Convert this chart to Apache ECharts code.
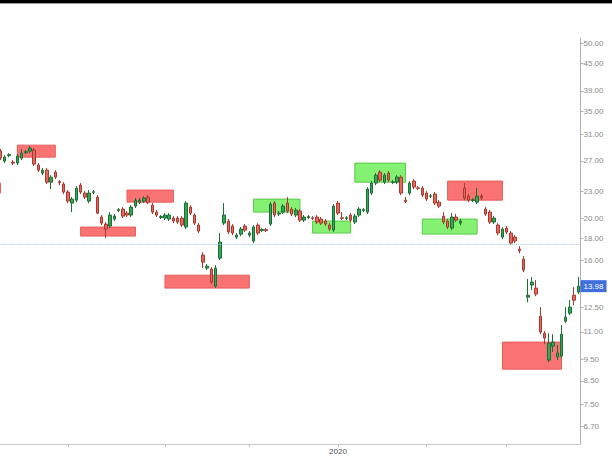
<!DOCTYPE html>
<html><head><meta charset="utf-8">
<script src="https://cdn.jsdelivr.net/npm/echarts@6/dist/echarts.min.js"></script>
<style>html,body{margin:0;padding:0;background:#fff}#c{width:612px;height:458px}</style>
</head><body><div id="c"></div>
<script>
// Daily candles, 9 Sep 2019 .. 25 Mar 2020 (three empty leading sessions off-screen)
const holidays = ['2019-11-28','2019-12-25','2020-01-01','2020-01-20','2020-02-17'];
const leadEmpty = 3;
const opens = [28.42,26.97,27.76,26.83,26.69,27.40,28.20,28.42,28.57,26.41,
25.32,25.72,24.15,25.45,24.22,23.90,22.92,21.63,21.97,23.77,
22.80,21.86,22.89,22.32,20.10,19.37,19.17,19.89,20.80,20.96,
20.52,20.31,21.29,21.74,21.86,22.32,21.40,20.63,20.05,19.99,
19.89,19.99,19.99,19.99,19.07,21.18,20.31,19.27,16.46,15.37,
15.29,13.98,16.20,19.47,19.68,19.17,18.09,18.38,19.17,18.28,
17.72,19.27,18.72,18.82,19.37,21.63,20.42,20.63,21.63,20.96,
20.31,20.74,19.78,20.05,20.02,20.10,19.89,19.68,19.27,18.77,
21.63,20.02,19.96,20.31,19.58,20.31,20.80,20.63,22.80,24.03,
25.45,24.15,25.32,24.12,24.15,24.79,21.97,22.80,24.28,23.43,
23.40,22.80,22.41,22.68,21.74,20.20,19.68,18.97,20.10,19.47,
23.40,22.44,21.94,21.74,22.44,20.96,20.63,19.58,19.27,18.09,
18.97,18.48,18.09,16.98,16.11,13.19,14.06,13.84,11.94,10.92,
9.48,10.20,9.63,9.68,11.63,12.13,13.33,13.55];
const closes = [27.40,27.54,27.90,26.69,27.69,28.12,28.35,28.87,26.55,25.72,
25.72,24.15,24.79,24.79,24.09,22.92,21.86,22.09,23.40,22.92,
22.32,22.80,22.95,20.52,19.47,18.87,20.31,20.20,20.90,20.20,
20.31,21.18,21.97,21.97,22.21,21.74,20.63,20.31,20.15,20.31,
20.31,19.68,19.58,19.27,21.63,20.52,19.47,18.67,15.86,15.53,
14.28,15.37,17.62,20.31,18.58,18.48,18.28,18.87,18.77,18.48,
19.07,18.48,18.82,18.72,21.52,20.31,20.52,21.29,20.74,20.42,
20.85,19.78,20.10,20.15,19.96,19.58,19.47,19.37,18.87,21.29,
20.52,19.96,20.02,19.78,20.20,20.96,20.90,23.28,24.03,25.05,
24.41,25.05,24.41,24.18,24.79,22.80,21.80,24.03,23.53,23.37,
22.56,22.09,22.47,21.63,21.29,19.58,19.07,20.10,19.78,19.68,
22.21,21.97,22.00,22.44,22.21,20.42,19.58,19.99,18.48,18.87,
18.58,17.53,17.72,16.85,15.21,13.33,14.28,13.41,10.98,10.64,
10.36,10.42,9.84,10.86,11.88,12.52,12.99,13.98];
const lows = [27.11,26.69,27.54,26.41,26.41,27.11,27.98,28.12,26.27,25.45,
25.05,23.90,23.28,24.53,23.77,22.68,21.63,20.63,21.74,22.68,
22.09,21.63,22.68,20.42,19.27,18.00,18.97,19.68,20.63,20.00,
20.10,20.10,21.07,21.52,21.63,21.52,20.42,20.10,19.89,19.78,
19.68,19.47,19.37,19.07,18.87,20.31,19.27,18.48,15.37,15.21,
14.13,13.84,16.03,19.27,18.38,18.28,17.90,18.19,18.58,18.09,
17.53,18.28,18.58,18.58,19.17,20.10,20.20,20.42,20.52,20.20,
20.10,19.58,19.58,19.89,19.78,19.37,19.27,19.17,18.67,18.58,
20.31,19.78,19.78,19.58,19.37,20.10,20.63,20.42,22.56,23.77,
24.15,23.90,24.15,23.90,23.90,22.56,21.63,22.56,23.28,23.16,
22.32,21.86,22.21,21.40,21.07,19.37,18.87,18.77,19.58,19.27,
21.97,21.74,21.74,21.52,21.97,20.20,19.37,19.37,18.28,17.90,
18.38,17.34,17.53,16.63,15.05,12.85,13.69,13.26,10.86,10.31,
9.38,9.89,9.48,9.58,11.51,12.01,12.65,13.41];
const highs = [28.72,27.83,28.12,27.11,27.98,28.72,28.57,29.18,28.87,26.69,
25.99,25.99,25.05,25.72,24.41,24.15,23.16,22.32,23.65,24.03,
23.04,23.16,23.16,22.56,20.31,19.58,20.63,20.42,21.07,21.18,
20.74,21.40,22.21,22.21,22.44,22.56,21.63,20.85,20.31,20.52,
20.52,20.20,20.20,20.20,21.86,21.40,20.52,19.47,16.72,15.70,
15.45,15.61,18.48,21.63,19.89,19.37,18.48,19.07,19.37,18.67,
19.27,19.47,18.97,18.97,21.74,21.86,20.74,21.52,22.32,21.18,
21.07,20.96,20.31,20.31,20.20,20.31,20.10,19.89,19.47,21.52,
21.86,20.63,20.20,20.52,20.42,21.18,21.07,23.53,24.28,25.32,
25.72,25.32,25.59,24.41,25.05,25.05,22.32,24.28,24.53,23.65,
23.65,23.04,22.68,22.92,21.97,20.63,19.89,20.52,20.42,19.89,
24.03,22.68,22.21,23.40,22.68,21.18,20.85,20.20,19.47,19.07,
19.17,18.67,18.28,17.25,16.37,14.51,14.66,14.43,12.52,11.04,
10.92,10.86,10.26,11.39,12.52,12.99,13.91,14.66];
// Price tick labels on the right axis
const yTicks = [50, 45, 39, 35, 31, 27, 23, 20, 18, 16, 12.5, 11, 9.5, 8.5, 7.5, 6.7];
const lastPrice = 13.98;
const refLevel = 17.44;
// Zones: [startCandle, endCandle, lowPrice, highPrice, kind]
const zones = [
  [-3, 0, 22.80, 24.03, 'sell'],
  [4, 13, 27.54, 29.33, 'sell'],
  [19, 32, 18.19, 19.07, 'sell'],
  [30, 41, 21.74, 23.16, 'sell'],
  [39, 59, 13.84, 14.81, 'sell'],
  [60, 71, 20.63, 22.09, 'buy'],
  [74, 83, 18.48, 19.68, 'buy'],
  [84, 96, 24.15, 26.69, 'buy'],
  [100, 113, 18.38, 19.89, 'buy'],
  [106, 119, 21.97, 24.28, 'sell'],
  [119, 133, 9.04, 10.42, 'sell']
];

// trading-day categories
const dates = [];
(function(){
  const d = new Date(Date.UTC(2019, 8, 4));
  const end = Date.UTC(2020, 2, 25);
  while (d.getTime() <= end) {
    const wd = d.getUTCDay();
    const s = d.toISOString().slice(0, 10);
    if (wd !== 0 && wd !== 6 && holidays.indexOf(s) < 0) dates.push(s);
    d.setUTCDate(d.getUTCDate() + 1);
  }
})();
const monthStart = dates.map((s, i) => i > 0 && s.slice(5, 7) !== dates[i - 1].slice(5, 7));

const candles = dates.map((s, j) => {
  const i = j - leadEmpty;
  if (i < 0) return '-';
  return [opens[i], closes[i], lows[i], highs[i]];
});

const zoneStyle = {
  sell: { color: 'rgba(250,100,100,0.9)', borderColor: '#e65c5c', borderWidth: 1 },
  buy: { color: 'rgba(120,240,100,0.9)', borderColor: '#5cc94c', borderWidth: 1 }
};
const areas = zones.map(z => [
  { xAxis: dates[z[0] + leadEmpty], yAxis: z[2], itemStyle: zoneStyle[z[4]] },
  { xAxis: dates[z[1] + leadEmpty], yAxis: z[3] }
]);

const chart = echarts.init(document.getElementById('c'), null, { renderer: 'svg' });
chart.setOption({
  animation: false,
  backgroundColor: '#fff',
  graphic: [
    { type: 'rect', shape: { x: 0, y: 0, width: 612, height: 3 }, style: { fill: '#000' }, z: 100 },
    { type: 'rect', shape: { x: 0, y: 3, width: 612, height: 1 }, style: { fill: '#9a9a9a' }, z: 100 }
  ],
  grid: { left: -14.3, right: 31.5, top: 38, bottom: 14, containLabel: false, outerBoundsMode: 'none' },
  xAxis: {
    type: 'category',
    data: dates,
    boundaryGap: true,
    axisLine: { show: true, lineStyle: { color: '#c8c8c8', width: 1 } },
    axisTick: { show: true, alignWithLabel: true, length: 3, interval: (i) => monthStart[i], lineStyle: { color: '#bdbdbd' } },
    axisLabel: {
      show: true,
      interval: (i) => monthStart[i] && dates[i].slice(5, 7) === '01',
      formatter: (v) => v.slice(0, 4),
      color: '#555', fontSize: 8, margin: 3, fontFamily: 'Liberation Sans'
    },
    splitLine: { show: false }
  },
  yAxis: {
    type: 'log',
    logBase: 10,
    position: 'right',
    min: 6.1,
    max: 51.5,
    axisLine: { show: true, lineStyle: { color: '#b0b0b0', width: 1 } },
    axisTick: { show: true, length: 3, customValues: yTicks, lineStyle: { color: '#b0b0b0' } },
    axisLabel: {
      customValues: yTicks,
      formatter: (v) => Number(v).toFixed(2),
      color: '#8a8a8a', fontSize: 8, margin: 3, fontFamily: 'Liberation Sans'
    },
    splitLine: { show: false }
  },
  series: [{
    type: 'candlestick',
    data: candles,
    barWidth: 3,
    itemStyle: {
      color: '#34a853', color0: '#e8675c',
      borderColor: '#1d6e36', borderColor0: '#a53a30', borderWidth: 1
    },
    markArea: { silent: true, data: areas },
    markLine: {
      silent: true,
      symbol: ['none', 'none'],
      data: [
        { yAxis: refLevel, lineStyle: { color: '#9cc2e2', type: 'dotted', width: 1 }, label: { show: false } },
        { yAxis: lastPrice, lineStyle: { color: 'rgba(0,0,0,0)', width: 0 },
          label: { show: true, position: 'end', formatter: lastPrice.toFixed(2), distance: 0,
                   backgroundColor: '#3e6fdc', color: '#fff', fontSize: 8, padding: [2, 3, 2, 3],
                   fontFamily: 'Liberation Sans' } }
      ]
    }
  }]
});
</script></body></html>
